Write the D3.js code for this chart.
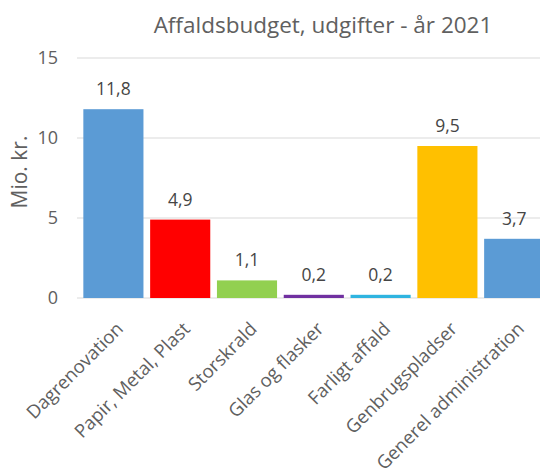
<!DOCTYPE html>
<html><head><meta charset="utf-8">
<script src="https://cdn.jsdelivr.net/npm/d3@7"></script>
<style>body{margin:0;background:#fff;overflow:hidden}svg{display:block}</style>
</head><body>
<svg id="c" width="540" height="474"></svg>
<script>
const categories = ["Dagrenovation","Papir, Metal, Plast","Storskrald","Glas og flasker","Farligt affald","Genbrugspladser","Generel administration"];
const values = [11.8, 4.9, 1.1, 0.2, 0.2, 9.5, 3.7];
const colors = ["#5B9BD5","#FF0000","#92D050","#7030A0","#2FB4E0","#FFC000","#5B9BD5"];
const yTicks = [0, 5, 10, 15];
const title = "Affaldsbudget, udgifter - år 2021";
const yLabel = "Mio. kr.";

const svg = d3.select("#c");
const font = "'Open Sans', sans-serif";
const textColor = "#606060";
const x = d3.scaleBand().domain(categories).range([80, 547.6]).paddingInner(0.1).paddingOuter(0.05);
const y = d3.scaleLinear().domain([0, 15]).range([298, 58]);

// gridlines
svg.append("g").selectAll("line").data(yTicks).join("line")
  .attr("x1", 77).attr("x2", 540)
  .attr("y1", d => y(d)).attr("y2", d => y(d))
  .attr("stroke", "#D9D9D9").attr("stroke-width", 1);

// y axis labels
const yAxis = svg.append("g").attr("transform", "translate(58,0)")
  .call(d3.axisLeft(y).tickValues(yTicks).tickSize(0).tickPadding(0));
yAxis.select(".domain").remove();
yAxis.selectAll("text").attr("font-family", font).attr("font-size", 18).attr("fill", textColor);

// bars
svg.append("g").selectAll("rect").data(values).join("rect")
  .attr("x", (d, i) => x(categories[i]))
  .attr("width", x.bandwidth())
  .attr("y", d => y(d))
  .attr("height", d => y(0) - y(d))
  .attr("fill", (d, i) => colors[i]);

// value labels
svg.append("g").selectAll("text").data(values).join("text")
  .attr("x", (d, i) => x(categories[i]) + x.bandwidth() / 2)
  .attr("y", d => y(d) - 14)
  .attr("text-anchor", "middle")
  .attr("font-family", font).attr("font-size", 17.5).attr("fill", "#454545")
  .text(d => d.toFixed(1).replace(".", ","));

// x labels
const xAxis = svg.append("g").attr("transform", "translate(0,298)")
  .call(d3.axisBottom(x).tickSize(0).tickPadding(0));
xAxis.select(".domain").remove();
xAxis.selectAll("text")
  .attr("font-family", font).attr("font-size", 18.5).attr("fill", textColor)
  .attr("text-anchor", "end")
  .attr("dy", 0).attr("y", 0)
  .attr("transform", "translate(11,32) rotate(-45)");

// y label
svg.append("text")
  .attr("transform", `translate(27,172) rotate(-90)`)
  .attr("text-anchor", "middle")
  .attr("font-family", font).attr("font-size", 21).attr("fill", textColor)
  .text(yLabel);

// title
svg.append("text")
  .attr("x", 323).attr("y", 33)
  .attr("text-anchor", "middle")
  .attr("font-family", font).attr("font-size", 22.5).attr("fill", textColor)
  .text(title);
</script>
</body></html>
